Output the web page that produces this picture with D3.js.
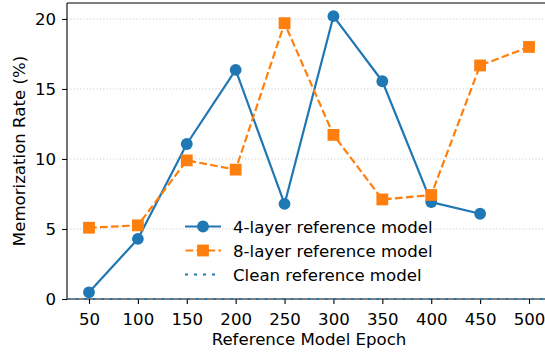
<!DOCTYPE html>
<html>
<head>
<meta charset="utf-8">
<script src="https://cdn.jsdelivr.net/npm/d3@7"></script>
<style>
  html, body { margin: 0; padding: 0; background: #fff; }
  svg { display: block; font-family: "DejaVu Sans", sans-serif; }
</style>
</head>
<body>
<svg id="chart" width="545" height="356"></svg>
<script>
// Memorization rate per reference-model epoch
const epochs = [50, 100, 150, 200, 250, 300, 350, 400, 450, 500];
const fourLayer = [0.48, 4.29, 11.07, 16.36, 6.79, 20.2, 15.55, 6.92, 6.09, null];
const eightLayer = [5.09, 5.26, 9.9, 9.24, 19.7, 11.72, 7.11, 7.43, 16.68, 18.0];
const cleanModel = [0, 0, 0, 0, 0, 0, 0, 0, 0, 0];
const xTicks = [50, 100, 150, 200, 250, 300, 350, 400, 450, 500];
const yTicks = [0, 5, 10, 15, 20];
const seriesLabels = ["4-layer reference model", "8-layer reference model", "Clean reference model"];

const blue = "#1f77b4", orange = "#ff7f0e";
const fs = 16.6;
const mr = 5.9; // marker half-size

const svg = d3.select("#chart");
const plot = { left: 67, right: 551, top: 3, bottom: 299 };

const x = d3.scaleLinear().domain([27.5, 522.5]).range([plot.left, plot.right]);
const y = d3.scaleLinear().domain([0, 21.14]).range([plot.bottom, plot.top]);

// horizontal dotted grid
svg.append("g").selectAll("line")
  .data(yTicks.filter(d => d > 0))
  .join("line")
  .attr("x1", plot.left).attr("x2", plot.right)
  .attr("y1", d => y(d)).attr("y2", d => y(d))
  .attr("stroke", "#b0b0b0").attr("stroke-width", 1)
  .attr("stroke-dasharray", "1,2.3").attr("opacity", 0.7);

// axes
const xAxis = svg.append("g")
  .attr("transform", `translate(0,${plot.bottom})`)
  .call(d3.axisBottom(x).tickValues(xTicks).tickSize(4.9).tickPadding(9).tickFormat(d3.format("d")));
const yAxis = svg.append("g")
  .attr("transform", `translate(${plot.left},0)`)
  .call(d3.axisLeft(y).tickValues(yTicks).tickSize(4.9).tickPadding(6).tickFormat(d3.format("d")));
[xAxis, yAxis].forEach(g => {
  g.select(".domain").remove();
  g.selectAll(".tick line").attr("stroke", "#000").attr("stroke-width", 1.1);
  g.selectAll(".tick text").attr("fill", "#000").style("font-size", fs + "px")
    .style("font-family", "DejaVu Sans, sans-serif");
});

// spines
const spines = svg.append("g").attr("stroke", "#000").attr("stroke-width", 1.1);
spines.append("line").attr("x1", plot.left).attr("x2", plot.left).attr("y1", plot.top).attr("y2", plot.bottom);
spines.append("line").attr("x1", plot.left).attr("x2", plot.right).attr("y1", plot.bottom).attr("y2", plot.bottom);
spines.append("line").attr("x1", plot.left).attr("x2", plot.right).attr("y1", plot.top).attr("y2", plot.top);
spines.append("line").attr("x1", plot.right).attr("x2", plot.right).attr("y1", plot.top).attr("y2", plot.bottom);

// axis titles
svg.append("text")
  .attr("x", (plot.left + plot.right) / 2).attr("y", 344.5)
  .attr("text-anchor", "middle").style("font-size", fs + "px")
  .text("Reference Model Epoch");
svg.append("text")
  .attr("transform", `translate(25,${(plot.top + plot.bottom) / 2}) rotate(-90)`)
  .attr("text-anchor", "middle").style("font-size", fs + "px")
  .text("Memorization Rate (%)");

const line = d3.line()
  .x(d => x(d[0])).y(d => y(d[1]));

// 4-layer series
const s4 = epochs.map((e, i) => [e, fourLayer[i]]).filter(d => d[1] !== null);
svg.append("path").datum(s4).attr("d", line)
  .attr("fill", "none").attr("stroke", blue).attr("stroke-width", 2.2)
  .attr("stroke-linejoin", "round");
svg.append("g").selectAll("circle").data(s4).join("circle")
  .attr("cx", d => x(d[0])).attr("cy", d => y(d[1])).attr("r", mr)
  .attr("fill", blue);

// 8-layer series
const s8 = epochs.map((e, i) => [e, eightLayer[i]]);
svg.append("path").datum(s8).attr("d", line)
  .attr("fill", "none").attr("stroke", orange).attr("stroke-width", 2.2)
  .attr("stroke-dasharray", "7.7,3.3");
svg.append("g").selectAll("rect").data(s8).join("rect")
  .attr("x", d => x(d[0]) - mr).attr("y", d => y(d[1]) - mr)
  .attr("width", 2 * mr).attr("height", 2 * mr).attr("fill", orange);

// clean model baseline at zero
svg.append("line")
  .attr("x1", plot.left).attr("x2", plot.right)
  .attr("y1", y(cleanModel[0])).attr("y2", y(cleanModel[0]))
  .attr("stroke", blue).attr("stroke-width", 2.2)
  .attr("stroke-dasharray", "2.6,6");

// legend (no frame)
const legend = svg.append("g");
const rowY = [226.5, 250.5, 274.5];
const hx0 = 185, hx1 = 221, hxm = 203;
legend.append("line").attr("x1", hx0).attr("x2", hx1).attr("y1", rowY[0]).attr("y2", rowY[0])
  .attr("stroke", blue).attr("stroke-width", 2.2);
legend.append("circle").attr("cx", hxm).attr("cy", rowY[0]).attr("r", mr).attr("fill", blue);
legend.append("line").attr("x1", hx0).attr("x2", hx1).attr("y1", rowY[1]).attr("y2", rowY[1])
  .attr("stroke", orange).attr("stroke-width", 2.2).attr("stroke-dasharray", "7.7,3.3")
  .attr("stroke-dashoffset", -0.5);
legend.append("rect").attr("x", hxm - mr).attr("y", rowY[1] - mr)
  .attr("width", 2 * mr).attr("height", 2 * mr).attr("fill", orange);
legend.append("line").attr("x1", hx0).attr("x2", hx1).attr("y1", rowY[2]).attr("y2", rowY[2])
  .attr("stroke", blue).attr("stroke-width", 2.2).attr("stroke-dasharray", "3,6");
legend.selectAll("text").data(seriesLabels).join("text")
  .attr("x", 233).attr("y", (d, i) => rowY[i] + 6)
  .style("font-size", fs + "px").text(d => d);
</script>
</body>
</html>
